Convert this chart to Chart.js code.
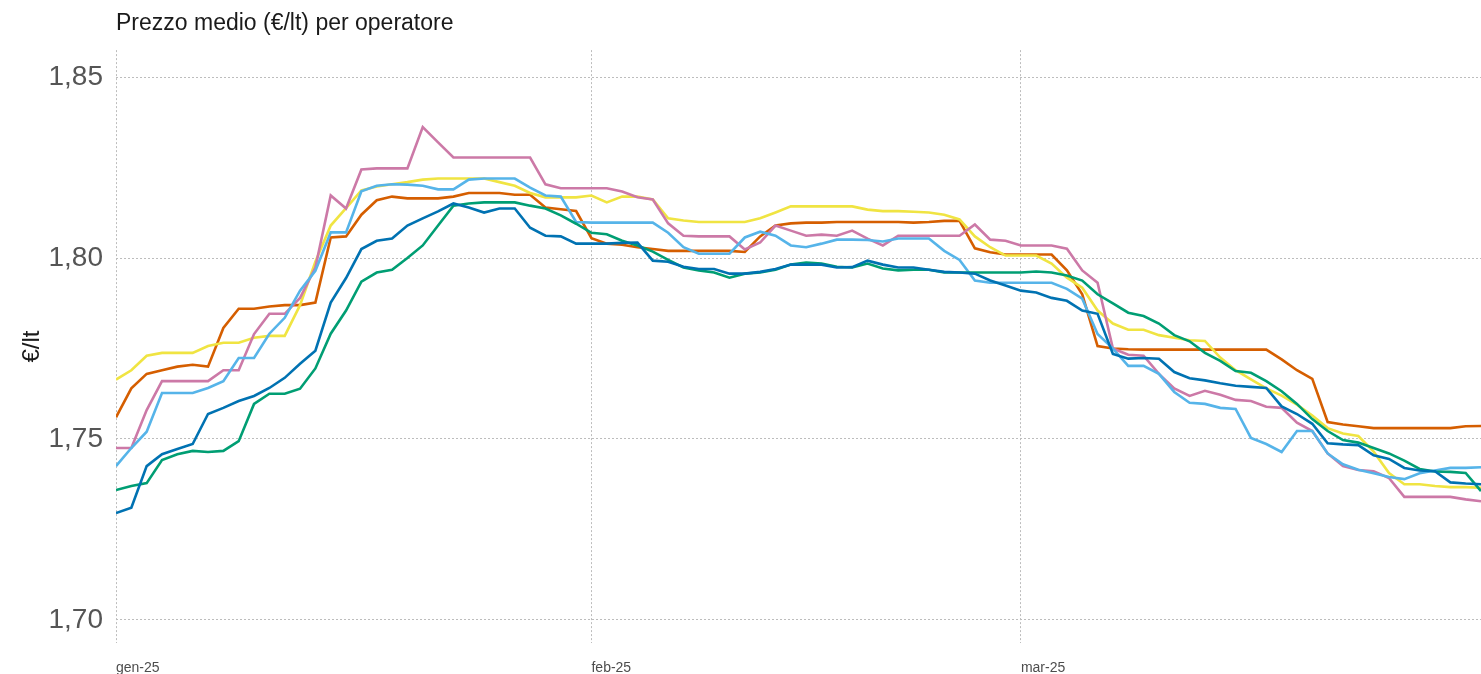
<!DOCTYPE html>
<html>
<head>
<meta charset="utf-8">
<script src="https://cdn.jsdelivr.net/npm/chart.js@4.4.1/dist/chart.umd.min.js"></script>
<style>
  html, body { margin: 0; padding: 0; background: #fff; }
  #wrap { width: 1481px; height: 674px; position: relative; }
</style>
</head>
<body>
<div id="wrap"><canvas id="myChart"></canvas></div>
<script>
// prezzo medio giornaliero (€/lt), 1 gen - 31 mar 2025, un valore per giorno
var monthStarts = [0, 31, 59];
var monthLabels = ["gen-25", "feb-25", "mar-25"];
var yTicks = [1.70, 1.75, 1.80, 1.85];

var arancio = [1.756,1.764,1.768,1.769,1.770,1.7705,1.770,1.7807,1.786,1.786,
  1.7866,1.787,1.787,1.7877,1.8057,1.806,1.812,1.816,1.817,1.8165,
  1.8165,1.8165,1.817,1.818,1.818,1.818,1.8175,1.8175,1.814,1.8135,
  1.813,1.8055,1.804,1.8037,1.803,1.8025,1.802,1.802,1.802,1.802,
  1.802,1.8017,1.806,1.809,1.8096,1.8098,1.8098,1.810,1.810,1.810,
  1.810,1.810,1.8098,1.810,1.8103,1.8103,1.8027,1.8016,1.801,1.801,
  1.801,1.801,1.7966,1.790,1.7757,1.775,1.7748,1.7747,1.7747,1.7747,
  1.7747,1.7747,1.7747,1.7747,1.7747,1.7747,1.772,1.769,1.7666,1.7547,
  1.754,1.7535,1.753,1.753,1.753,1.753,1.753,1.753,1.7535,1.7536];

var giallo = [1.7664,1.769,1.773,1.7738,1.7738,1.7738,1.7757,1.7766,1.7766,1.778,
  1.7785,1.7785,1.787,1.799,1.809,1.8138,1.8187,1.8198,1.8204,1.821,
  1.8217,1.822,1.822,1.822,1.822,1.821,1.820,1.818,1.8168,1.8168,
  1.8168,1.8173,1.8154,1.817,1.817,1.8162,1.811,1.8104,1.810,1.810,
  1.810,1.810,1.811,1.8126,1.8143,1.8143,1.8143,1.8143,1.8143,1.8134,
  1.813,1.813,1.8128,1.8126,1.812,1.8107,1.806,1.803,1.8007,1.8007,
  1.8007,1.7985,1.7946,1.7918,1.7855,1.7819,1.7802,1.7802,1.7787,1.778,
  1.7773,1.7771,1.7725,1.769,1.7665,1.764,1.762,1.7595,1.7565,1.753,
  1.7515,1.7508,1.7465,1.7406,1.7375,1.7375,1.737,1.7367,1.7367,1.7365];

var rosa = [1.7475,1.7475,1.758,1.766,1.766,1.766,1.766,1.769,1.769,1.779,
  1.7846,1.7846,1.789,1.7974,1.8173,1.8137,1.8245,1.8248,1.8248,1.8248,
  1.8362,1.832,1.8278,1.8278,1.8278,1.8278,1.8278,1.8278,1.8204,1.8193,
  1.8193,1.8193,1.8193,1.8184,1.8168,1.8162,1.8096,1.8062,1.806,1.806,
  1.806,1.8024,1.8043,1.809,1.8076,1.8062,1.8065,1.8062,1.8076,1.8054,
  1.8035,1.8062,1.8062,1.8062,1.8062,1.8062,1.8093,1.8051,1.8048,1.8035,
  1.8035,1.8035,1.8026,1.7966,1.7932,1.775,1.7733,1.773,1.768,1.764,
  1.7619,1.7633,1.7622,1.7608,1.7605,1.7589,1.7586,1.7545,1.7522,1.746,
  1.7425,1.7414,1.7411,1.7392,1.734,1.734,1.734,1.734,1.7333,1.7328];

var azzurro = [1.7425,1.7475,1.752,1.7627,1.7627,1.7627,1.7641,1.766,1.7724,1.7724,
  1.7791,1.7835,1.791,1.7965,1.8071,1.8071,1.8185,1.820,1.8204,1.8203,
  1.820,1.819,1.819,1.8217,1.822,1.822,1.822,1.8195,1.8173,1.817,
  1.810,1.8098,1.8098,1.8098,1.8098,1.8098,1.807,1.803,1.8012,1.8012,
  1.8012,1.8057,1.8073,1.8062,1.8035,1.803,1.804,1.8051,1.8051,1.805,
  1.8046,1.8054,1.8054,1.8054,1.802,1.7995,1.7938,1.7932,1.7932,1.7932,
  1.7932,1.7932,1.7915,1.7888,1.779,1.775,1.7702,1.7702,1.768,1.763,
  1.760,1.7597,1.7586,1.7583,1.7503,1.7486,1.7464,1.7522,1.7522,1.746,
  1.743,1.7415,1.7405,1.7395,1.7389,1.7405,1.7413,1.742,1.742,1.7422];

var blu = [1.7295,1.731,1.7425,1.7458,1.7472,1.7486,1.7569,1.7586,1.7605,1.7619,
  1.7641,1.7669,1.7708,1.7744,1.7877,1.7945,1.8025,1.8048,1.8054,1.809,
  1.811,1.8129,1.8151,1.814,1.8126,1.8137,1.8137,1.8084,1.8062,1.806,
  1.804,1.804,1.804,1.8042,1.8043,1.7993,1.799,1.7976,1.797,1.797,
  1.7957,1.7957,1.7962,1.797,1.7982,1.7982,1.7982,1.7974,1.7975,1.7993,
  1.7982,1.7974,1.7974,1.7968,1.7962,1.796,1.7957,1.7938,1.7924,1.791,
  1.7905,1.789,1.7882,1.7855,1.7846,1.7735,1.7722,1.7724,1.7722,1.7685,
  1.7668,1.7662,1.7654,1.7647,1.7644,1.7641,1.759,1.7569,1.7542,1.7488,
  1.7485,1.7483,1.7455,1.7445,1.742,1.7413,1.7411,1.738,1.7377,1.7375];

var verde = [1.7359,1.737,1.7378,1.7442,1.7458,1.7467,1.7464,1.7467,1.7494,1.7597,
  1.7625,1.7625,1.7639,1.7695,1.7791,1.7855,1.7935,1.796,1.7968,1.800,
  1.8035,1.809,1.8145,1.8151,1.8154,1.8154,1.8154,1.8145,1.8137,1.8118,
  1.8095,1.807,1.8066,1.8048,1.8035,1.8018,1.7995,1.7974,1.7966,1.796,
  1.7946,1.7957,1.796,1.7968,1.7982,1.7988,1.7985,1.7976,1.7974,1.7985,
  1.7971,1.7966,1.7968,1.7968,1.796,1.796,1.796,1.796,1.796,1.796,
  1.7963,1.796,1.7952,1.7938,1.790,1.7875,1.7849,1.784,1.7819,1.7787,
  1.777,1.7738,1.7716,1.7688,1.7683,1.766,1.7632,1.7597,1.7555,1.7522,
  1.7497,1.749,1.7475,1.746,1.744,1.7417,1.741,1.7409,1.7406,1.7356];

function punti(arr) {
  return arr.map(function (v, i) { return { x: i, y: v }; });
}

function serie(dati, colore) {
  return {
    data: punti(dati),
    borderColor: colore,
    backgroundColor: colore,
    borderWidth: 2.6,
    pointRadius: 0,
    tension: 0,
    fill: false
  };
}

var griglia = {
  color: "#bdbdbd",
  lineWidth: 1,
  drawTicks: false
};

var font = "'Liberation Sans', Arial, sans-serif";

var ctx = document.getElementById("myChart").getContext("2d");
var myChart = new Chart(ctx, {
  type: "line",
  data: {
    datasets: [
      serie(blu, "#0072B2"),
      serie(verde, "#009E73"),
      serie(azzurro, "#56B4E9"),
      serie(rosa, "#CC79A7"),
      serie(giallo, "#F0E442"),
      serie(arancio, "#D55E00")
    ]
  },
  options: {
    responsive: true,
    maintainAspectRatio: false,
    animation: false,
    layout: { padding: 0 },
    plugins: {
      legend: { display: false },
      tooltip: { enabled: false },
      title: {
        display: true,
        text: "Prezzo medio (€/lt) per operatore",
        align: "start",
        fullSize: false,
        color: "#1a1a1a",
        font: { family: font, size: 23, weight: "normal" },
        padding: { top: 10, bottom: 12.5 }
      }
    },
    scales: {
      x: {
        type: "linear",
        min: 0,
        max: 89,
        border: { display: false, dash: [2, 2] },
        grid: griglia,
        afterBuildTicks: function (scale) {
          scale.ticks = monthStarts.map(function (v) { return { value: v }; });
        },
        afterFit: function (scale) {
          scale.height = 31;
        },
        ticks: {
          align: "start",
          padding: 17,
          maxRotation: 0,
          color: "#4d4d4d",
          font: { family: font, size: 14 },
          callback: function (value) {
            var k = monthStarts.indexOf(value);
            return k >= 0 ? monthLabels[k] : "";
          }
        }
      },
      y: {
        min: 1.6936,
        max: 1.8575,
        border: { display: false, dash: [2, 2] },
        grid: griglia,
        afterBuildTicks: function (scale) {
          scale.ticks = yTicks.map(function (v) { return { value: v }; });
        },
        afterFit: function (scale) {
          scale.width = 116;
        },
        ticks: {
          padding: 13,
          color: "#555",
          font: { family: font, size: 28 },
          callback: function (value) {
            return value.toFixed(2).replace(".", ",");
          }
        },
        title: {
          display: true,
          text: "€/lt",
          color: "#1a1a1a",
          font: { family: font, size: 24 },
          padding: { top: 18, bottom: 0 }
        }
      }
    }
  }
});
</script>
</body>
</html>
